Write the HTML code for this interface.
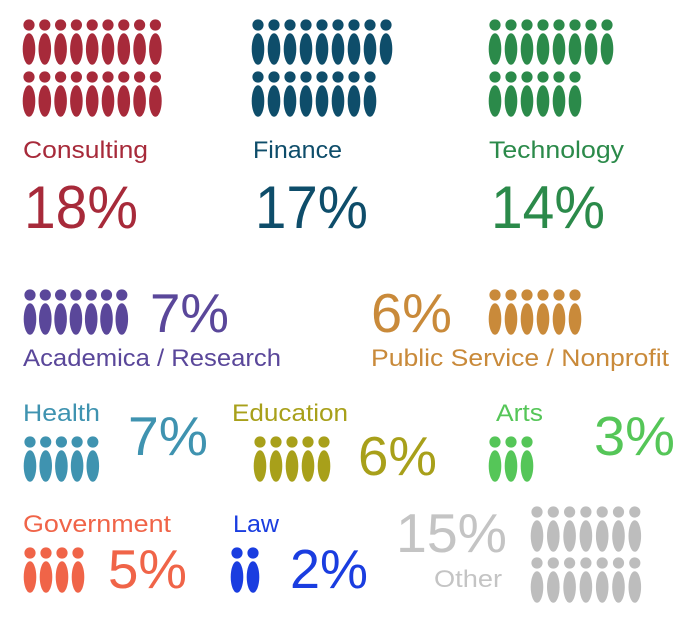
<!DOCTYPE html>
<html><head><meta charset="utf-8"><style>
html,body{margin:0;padding:0;background:#fff;}
svg{display:block;}
text{font-family:"Liberation Sans","DejaVu Sans",sans-serif;}
.l{font-size:24px;}
.p{font-size:60px;}
.m{font-size:55px;}
</style></head><body>
<svg id="s" width="692" height="620" viewBox="0 0 692 620" xmlns="http://www.w3.org/2000/svg">
<rect width="692" height="620" fill="#fff"/>
<g id="icons"></g>
<text class="l" x="23" y="158" fill="#a72a3a" textLength="125" lengthAdjust="spacingAndGlyphs">Consulting</text>
<text class="p" x="24" y="228" fill="#a72a3a" textLength="114" lengthAdjust="spacingAndGlyphs">18%</text>
<text class="l" x="253" y="158" fill="#0e4d6a" textLength="89" lengthAdjust="spacingAndGlyphs">Finance</text>
<text class="p" x="255" y="228" fill="#0e4d6a" textLength="113" lengthAdjust="spacingAndGlyphs">17%</text>
<text class="l" x="489" y="158" fill="#2b8a4a" textLength="135" lengthAdjust="spacingAndGlyphs">Technology</text>
<text class="p" x="491" y="228" fill="#2b8a4a" textLength="114" lengthAdjust="spacingAndGlyphs">14%</text>
<text class="m" x="150" y="332" fill="#5a479a" textLength="79" lengthAdjust="spacingAndGlyphs">7%</text>
<text class="l" x="23" y="366" fill="#5a479a" textLength="258" lengthAdjust="spacingAndGlyphs">Academica / Research</text>
<text class="m" x="371" y="332" fill="#c98a3a" textLength="81" lengthAdjust="spacingAndGlyphs">6%</text>
<text class="l" x="371" y="366" fill="#c98a3a" textLength="298" lengthAdjust="spacingAndGlyphs">Public Service / Nonprofit</text>
<text class="l" x="23" y="421" fill="#3f93b0" textLength="77" lengthAdjust="spacingAndGlyphs">Health</text>
<text class="m" x="128" y="455" fill="#3f93b0" textLength="80" lengthAdjust="spacingAndGlyphs">7%</text>
<text class="l" x="232" y="421" fill="#a8a01a" textLength="116" lengthAdjust="spacingAndGlyphs">Education</text>
<text class="m" x="358" y="475" fill="#a8a01a" textLength="79" lengthAdjust="spacingAndGlyphs">6%</text>
<text class="l" x="496" y="421" fill="#55c658" textLength="47" lengthAdjust="spacingAndGlyphs">Arts</text>
<text class="m" x="594" y="455" fill="#55c658" textLength="81" lengthAdjust="spacingAndGlyphs">3%</text>
<text class="l" x="23" y="532" fill="#f06448" textLength="148" lengthAdjust="spacingAndGlyphs">Government</text>
<text class="m" x="108" y="588" fill="#f06448" textLength="79" lengthAdjust="spacingAndGlyphs">5%</text>
<text class="l" x="233" y="532" fill="#1a3de0" textLength="46" lengthAdjust="spacingAndGlyphs">Law</text>
<text class="m" x="290" y="588" fill="#1a3de0" textLength="78" lengthAdjust="spacingAndGlyphs">2%</text>
<text class="m" x="396" y="552" fill="#c4c4c4" textLength="111" lengthAdjust="spacingAndGlyphs">15%</text>
<text class="l" x="434" y="587" fill="#c4c4c4" textLength="68" lengthAdjust="spacingAndGlyphs">Other</text>
</svg>
<script>
var g=document.getElementById('icons'),NS='http://www.w3.org/2000/svg';
function row(x0,pitch,n,hy,col){
 for(var i=0;i<n;i++){
  var x=x0+i*pitch;
  var c=document.createElementNS(NS,'circle');
  c.setAttribute('cx',x);c.setAttribute('cy',hy);c.setAttribute('r',5.6);c.setAttribute('fill',col);g.appendChild(c);
  var e=document.createElementNS(NS,'ellipse');
  e.setAttribute('cx',x);e.setAttribute('cy',hy+24);e.setAttribute('rx',6.3);e.setAttribute('ry',15.8);e.setAttribute('fill',col);g.appendChild(e);
 }
}
row(29,15.8,9,25,'#a72a3a');row(29,15.8,9,77,'#a72a3a');
row(258,16,9,25,'#0e4d6a');row(258,16,8,77,'#0e4d6a');
row(495,16,8,25,'#2b8a4a');row(495,16,6,77,'#2b8a4a');
row(30,15.3,7,295,'#5a479a');
row(495,16,6,295,'#c98a3a');
row(30,15.7,5,442,'#3f93b0');
row(260,16,5,442,'#a8a01a');
row(495,16,3,442,'#55c658');
row(30,16,4,553,'#f06448');
row(237,16,2,553,'#1a3de0');
row(537,16.3,7,512,'#bdbdbd');row(537,16.3,7,563,'#bdbdbd');
</script>
</body></html>
